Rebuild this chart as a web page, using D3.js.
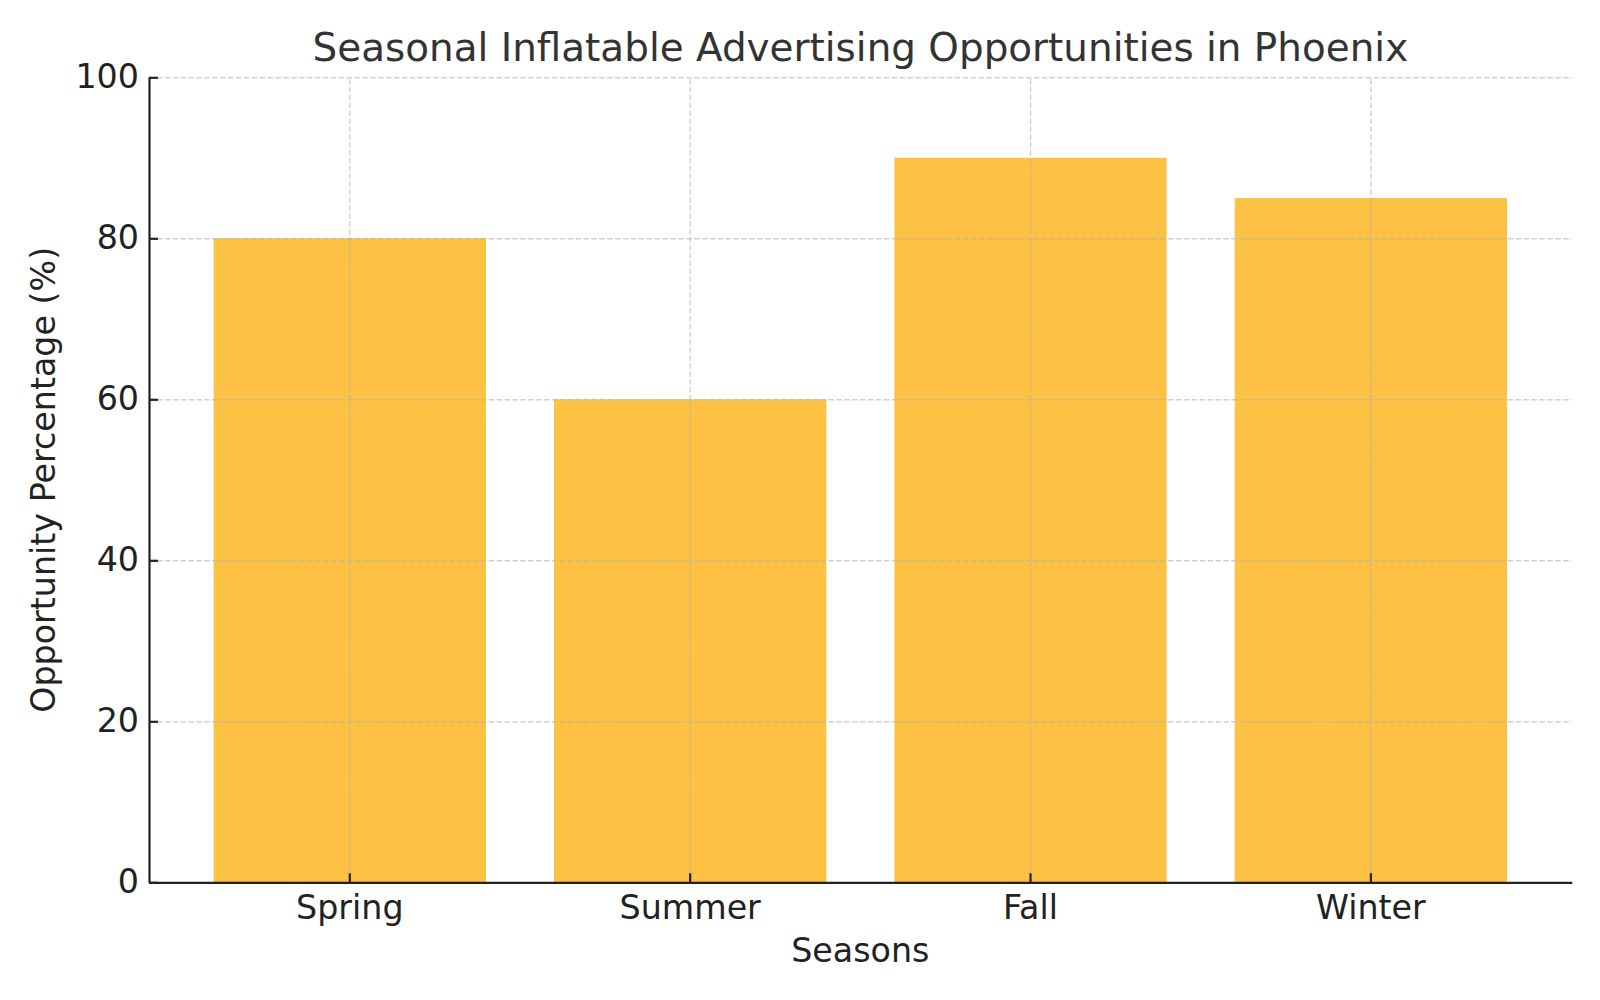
<!DOCTYPE html>
<html>
<head>
<meta charset="utf-8">
<script src="https://cdn.jsdelivr.net/npm/d3@7"></script>
<style>
  body { margin: 0; background: #fff; }
  svg { display: block; font-family: "DejaVu Sans", sans-serif; }
</style>
</head>
<body>
<div id="container"></div>
<script>
/* CONSTANTS AND DATA */
const width = 1600;
const height = 1000;

const seasons = ["Spring", "Summer", "Fall", "Winter"];
const opportunity = [80, 60, 90, 85];
const yTicks = [0, 20, 40, 60, 80, 100];

const margin = { top: 77.3, right: 28.3, bottom: 117.7, left: 149 };
const innerW = width - margin.left - margin.right;
const innerH = height - margin.top - margin.bottom;

const data = seasons.map((s, i) => ({ season: s, value: opportunity[i] }));

const svg = d3.select("#container")
  .append("svg")
  .attr("width", width)
  .attr("height", height);

const g = svg.append("g")
  .attr("transform", `translate(${margin.left},${margin.top})`);

/* SCALES */
const xScale = d3.scaleBand()
  .domain(seasons)
  .range([0, innerW])
  .paddingInner(0.2)
  .paddingOuter(0.19);

const yScale = d3.scaleLinear()
  .domain([0, 100])
  .range([innerH, 0]);

/* BARS */
g.selectAll(".bar")
  .data(data)
  .join("rect")
  .attr("class", "bar")
  .attr("x", d => xScale(d.season))
  .attr("y", d => yScale(d.value))
  .attr("width", xScale.bandwidth())
  .attr("height", d => innerH - yScale(d.value))
  .attr("fill", "#fdc243");

/* GRID (drawn over bars) */
const yGrid = g.append("g")
  .call(d3.axisLeft(yScale).tickValues(yTicks).tickSize(-innerW).tickFormat(""));
const xGrid = g.append("g")
  .attr("transform", `translate(0,${innerH})`)
  .call(d3.axisBottom(xScale).tickSize(-innerH).tickFormat(""));
[yGrid, xGrid].forEach(gr => {
  gr.select(".domain").remove();
  gr.selectAll("line")
    .attr("stroke", "#b0b0b0")
    .attr("stroke-opacity", 0.6)
    .attr("stroke-width", 1.4)
    .attr("stroke-dasharray", "5.5,2.4");
});

/* AXES */
const yAxis = g.append("g")
  .call(d3.axisLeft(yScale).tickValues(yTicks).tickSize(-9).tickPadding(10).tickSizeOuter(0));
const xAxis = g.append("g")
  .attr("transform", `translate(0,${innerH})`)
  .call(d3.axisBottom(xScale).tickSize(-9).tickPadding(13).tickSizeOuter(0));

[yAxis, xAxis].forEach(ax => {
  ax.select(".domain").attr("stroke", "#222").attr("stroke-width", 2.2);
  ax.selectAll(".tick line").attr("stroke", "#222").attr("stroke-width", 2.2);
  ax.selectAll(".tick text")
    .attr("fill", "#222")
    .style("font-size", "33.3px")
    .style("font-family", "DejaVu Sans");
});

/* LABELS */
svg.append("text")
  .attr("x", margin.left + innerW / 2)
  .attr("y", 60.5)
  .attr("text-anchor", "middle")
  .attr("fill", "#333")
  .style("font-size", "38.9px")
  .text("Seasonal Inflatable Advertising Opportunities in Phoenix");

svg.append("text")
  .attr("x", margin.left + innerW / 2)
  .attr("y", 962)
  .attr("text-anchor", "middle")
  .attr("fill", "#222")
  .style("font-size", "33.3px")
  .text("Seasons");

svg.append("text")
  .attr("transform", `translate(55,${margin.top + innerH / 2}) rotate(-90)`)
  .attr("text-anchor", "middle")
  .attr("fill", "#222")
  .style("font-size", "33.3px")
  .text("Opportunity Percentage (%)");
</script>
</body>
</html>
